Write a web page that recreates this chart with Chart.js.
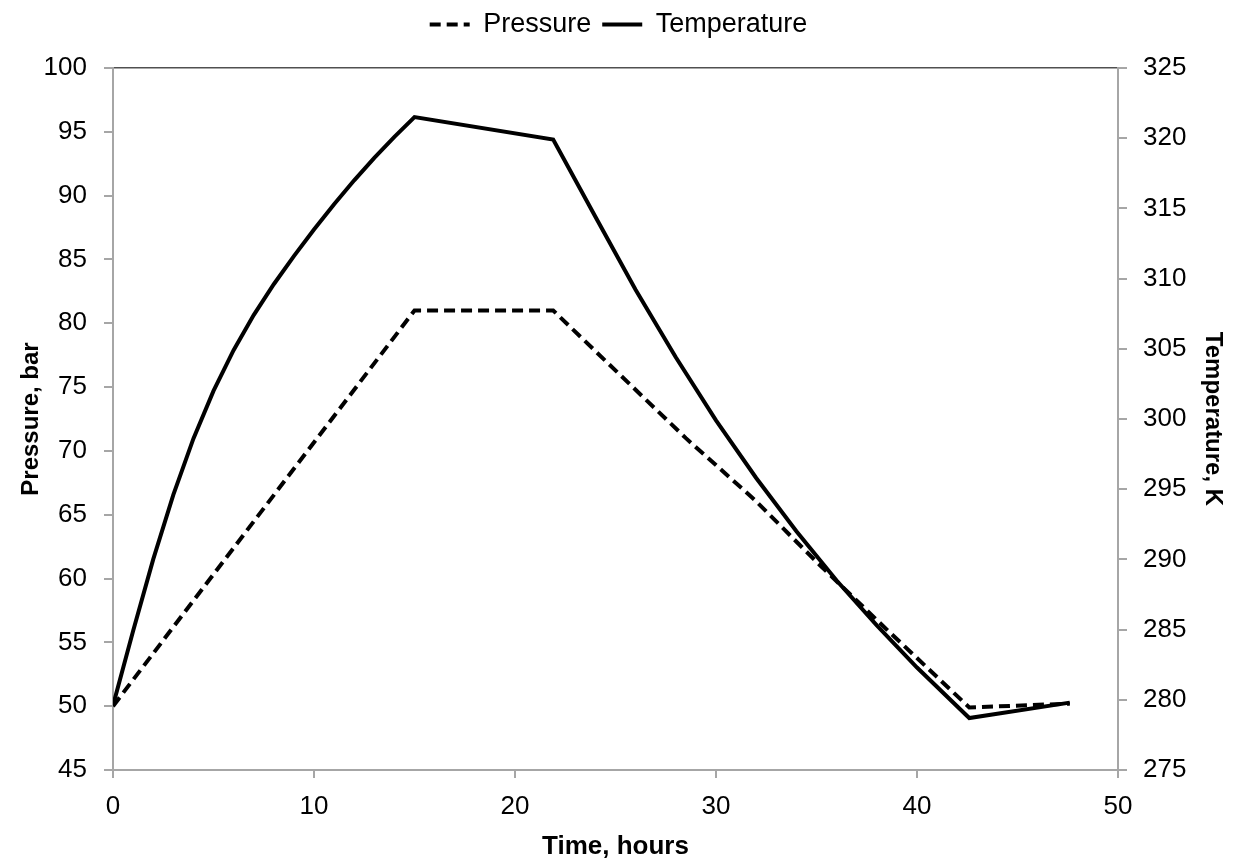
<!DOCTYPE html>
<html>
<head>
<meta charset="utf-8">
<script src="https://cdn.jsdelivr.net/npm/chart.js@4.4.1/dist/chart.umd.min.js"></script>
<style>
  html, body { margin: 0; padding: 0; background: #fff; }
  #contenedor { width: 1237px; height: 863px; }
</style>
</head>
<body>
<div id="contenedor"><canvas id="plot1"></canvas></div>
<script>
//Datos
let tiempoPresion = [0, 15, 21.9, 25.2, 28.5, 31.9, 35.2, 38.5, 42.6, 47.6]
let presion = [50, 81, 81, 76.0, 71.0, 66.2, 61.0, 56.0, 49.9, 50.2]

let tiempoTemperatura = [0, 1, 2, 3, 4, 5, 6, 7, 8, 9, 10, 11, 12, 13, 14, 15,
  21.9, 24, 26, 28, 30, 32, 34, 36, 38, 40, 42.6, 47.6]
let temperatura = [279.6, 284.9, 290.0, 294.6, 298.6, 302.0, 304.9, 307.4, 309.6, 311.6, 313.5, 315.3, 317.0, 318.6, 320.1, 321.5,
  319.9, 314.4, 309.2, 304.4, 299.9, 295.8, 292.0, 288.5, 285.3, 282.3, 278.7, 279.8]

//Etiquetas de los ejes
let ticksTiempo = [0, 10, 20, 30, 40, 50]
let ticksPresion = [45, 50, 55, 60, 65, 70, 75, 80, 85, 90, 95, 100]
let ticksTemperatura = [275, 280, 285, 290, 295, 300, 305, 310, 315, 320, 325]

let puntos = (xs, ys) => xs.map((x, i) => ({x: x, y: ys[i]}))
let fijarTicks = (lista) => (scale) => { scale.ticks = lista.map(v => ({value: v})) }

let gris = '#a6a6a6'
let fuente = 'Liberation Sans, Arial, sans-serif'

//La leyenda toma el trazo (guiones y grosor) de cada serie
let etiquetasLeyenda = (chart) => Chart.defaults.plugins.legend.labels.generateLabels(chart).map(item => {
  let ds = chart.data.datasets[item.datasetIndex]
  item.lineDash = ds.borderDash || []
  item.lineWidth = ds.borderWidth
  item.strokeStyle = '#000'
  item.fillStyle = '#000'
  return item
})

let plotRef = document.getElementById('plot1')

let config = {
  type: 'line',
  data: {
    datasets: [
      {
        label: 'Pressure',
        data: puntos(tiempoPresion, presion),
        yAxisID: 'y',
        borderColor: '#000',
        backgroundColor: '#000',
        borderWidth: 4,
        borderDash: [11, 6],
        pointRadius: 0,
        tension: 0
      },
      {
        label: 'Temperature',
        data: puntos(tiempoTemperatura, temperatura),
        yAxisID: 'y2',
        borderColor: '#000',
        backgroundColor: '#000',
        borderWidth: 4,
        pointRadius: 0,
        tension: 0
      }
    ]
  },
  options: {
    responsive: true,
    maintainAspectRatio: false,
    animation: false,
    events: [],
    layout: { padding: 0 },
    plugins: {
      tooltip: { enabled: false },
      legend: {
        position: 'top',
        labels: {
          color: '#000',
          font: { family: fuente, size: 27 },
          usePointStyle: true,
          pointStyle: 'line',
          pointStyleWidth: 40,
          boxHeight: 27,
          padding: 11,
          generateLabels: etiquetasLeyenda
        }
      }
    },
    scales: {
      x: {
        type: 'linear',
        position: 'bottom',
        min: 0,
        max: 50,
        afterBuildTicks: fijarTicks(ticksTiempo),
        afterFit: (s) => { s.height = 93 },
        border: { color: gris, width: 2 },
        grid: { drawOnChartArea: false, color: gris, tickLength: 8, lineWidth: 2 },
        ticks: { color: '#000', font: { family: fuente, size: 26 }, padding: 13, maxRotation: 0 },
        title: { display: true, text: 'Time, hours', color: '#000', font: { family: fuente, size: 26, weight: 'bold' }, padding: { top: 0, bottom: 1 } }
      },
      xTop: {
        type: 'linear',
        position: 'top',
        min: 0,
        max: 50,
        afterFit: (s) => { s.height = 20 },
        border: { color: '#505050', width: 1.5 },
        grid: { display: false },
        ticks: { display: false }
      },
      y: {
        type: 'linear',
        position: 'left',
        min: 45,
        max: 100,
        afterBuildTicks: fijarTicks(ticksPresion),
        afterFit: (s) => { s.width = 113 },
        border: { color: gris, width: 2 },
        grid: { drawOnChartArea: false, color: gris, tickLength: 9, lineWidth: 2 },
        ticks: { color: '#000', font: { family: fuente, size: 26 }, padding: 17 },
        title: { display: true, text: 'Pressure, bar', color: '#000', font: { family: fuente, size: 24, weight: 'bold' }, padding: { top: 17, bottom: 0 } }
      },
      y2: {
        type: 'linear',
        position: 'right',
        min: 275,
        max: 325,
        afterBuildTicks: fijarTicks(ticksTemperatura),
        afterFit: (s) => { s.width = 119 },
        border: { color: gris, width: 2 },
        grid: { drawOnChartArea: false, color: gris, tickLength: 9, lineWidth: 2 },
        ticks: { color: '#000', font: { family: fuente, size: 26 }, padding: 16 },
        title: { display: true, text: 'Temperature, K', color: '#000', font: { family: fuente, size: 24, weight: 'bold' }, padding: { top: 10, bottom: 0 } }
      }
    }
  }
}

let chart1 = new Chart(plotRef, config)
</script>
</body>
</html>
